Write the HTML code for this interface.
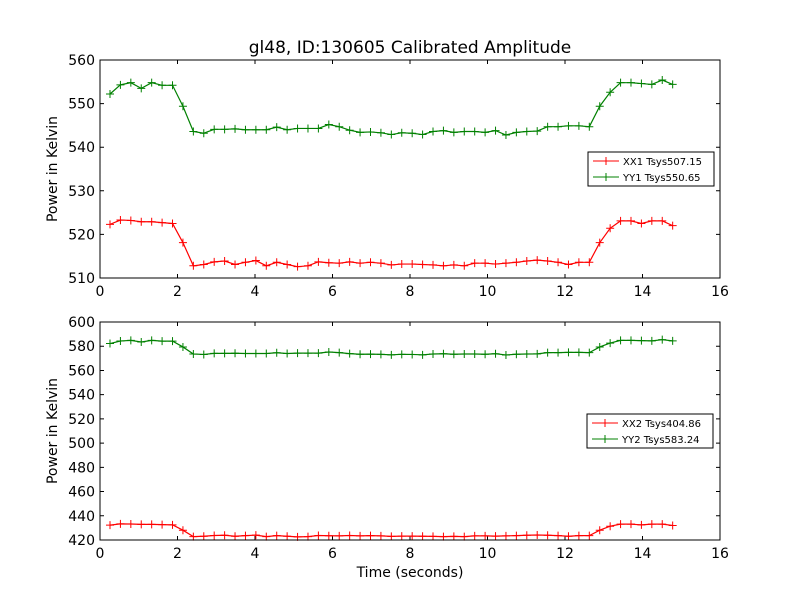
<!DOCTYPE html>
<html><head><meta charset="utf-8"><style>body{margin:0;background:#fff}svg{display:block;font-family:"DejaVu Sans","Liberation Sans",sans-serif}</style></head>
<body>
<svg id="chart" width="800" height="600" xmlns="http://www.w3.org/2000/svg">
<rect width="800" height="600" fill="#fff"/>
<text x="410" y="53" font-size="17" text-anchor="middle">gl48, ID:130605 Calibrated Amplitude</text>
<text x="410" y="577" font-size="14" text-anchor="middle">Time (seconds)</text>
<g id="plots"></g>
</svg>
<script>
const xTicks = [0,2,4,6,8,10,12,14,16];
const yTicksTop = [510,520,530,540,550,560];
const yTicksBot = [420,440,460,480,500,520,540,560,580,600];
const tStart = 0.258, tStep = 0.2689;
const xx1 = [522.3,523.3,523.2,522.9,522.9,522.7,522.5,518.1,512.8,513.1,513.7,513.9,513.1,513.6,514.0,512.8,513.6,513.1,512.6,512.8,513.7,513.5,513.4,513.7,513.4,513.6,513.4,513.0,513.2,513.2,513.1,513.0,512.8,513.0,512.8,513.4,513.4,513.2,513.4,513.6,513.9,514.1,513.9,513.6,513.1,513.6,513.6,518.1,521.4,523.1,523.1,522.5,523.1,523.1,522.0];
const yy1 = [552.2,554.3,554.8,553.5,554.8,554.2,554.2,549.4,543.6,543.2,544.1,544.1,544.2,544.0,544.0,544.0,544.6,544.0,544.3,544.3,544.3,545.2,544.7,543.9,543.4,543.5,543.3,542.9,543.3,543.2,542.9,543.6,543.8,543.4,543.6,543.6,543.4,543.8,542.8,543.4,543.6,543.7,544.7,544.7,544.9,544.9,544.7,549.4,552.6,554.8,554.8,554.6,554.4,555.4,554.4];
const xx2 = [432.3,433.3,433.2,432.9,432.9,432.7,432.5,428.1,422.8,423.1,423.7,423.9,423.1,423.6,424.0,422.8,423.6,423.1,422.6,422.8,423.7,423.5,423.4,423.7,423.4,423.6,423.4,423.0,423.2,423.2,423.1,423.0,422.8,423.0,422.8,423.4,423.4,423.2,423.4,423.6,423.9,424.1,423.9,423.6,423.1,423.6,423.6,428.1,431.4,433.1,433.1,432.5,433.1,433.1,432.0];
const yy2 = [582.2,584.3,584.8,583.5,584.8,584.2,584.2,579.4,573.6,573.2,574.1,574.1,574.2,574.0,574.0,574.0,574.6,574.0,574.3,574.3,574.3,575.2,574.7,573.9,573.4,573.5,573.3,572.9,573.3,573.2,572.9,573.6,573.8,573.4,573.6,573.6,573.4,573.8,572.8,573.4,573.6,573.7,574.7,574.7,574.9,574.9,574.7,579.4,582.6,584.8,584.8,584.6,584.4,585.4,584.4];
const legendTop = ["XX1 Tsys507.15","YY1 Tsys550.65"];
const legendBot = ["XX2 Tsys404.86","YY2 Tsys583.24"];

const NS="http://www.w3.org/2000/svg";
const root=document.getElementById('plots');
function mk(tag,attrs,parent){const e=document.createElementNS(NS,tag);for(const k in attrs)e.setAttribute(k,attrs[k]);(parent||root).appendChild(e);return e;}

function panel(name,top,bottom,yTicks,ymin,ymax,series,colors,labels,leg){
  const L=100,R=720;
  const g=mk('g',{});
  
  
  const X=v=>L+(v-0)/(16-0)*(R-L);
  const Y=v=>bottom-(v-ymin)/(ymax-ymin)*(bottom-top);
  xTicks.forEach(t=>{
    const x=X(t);
    const tk=mk('path',{d:`M${x},${bottom}v-4M${x},${top}v4`,stroke:'#000','stroke-width':1},g);
    
    
    const lb=mk('text',{x:x,y:bottom+18,'font-size':14,'text-anchor':'middle'},g);
    
    
    lb.textContent=t;
  });
  yTicks.forEach(t=>{
    const y=Y(t);
    const tk=mk('path',{d:`M${L},${y}h4M${R},${y}h-4`,stroke:'#000','stroke-width':1},g);
    
    
    const lb=mk('text',{x:L-5,y:y+5,'font-size':14,'text-anchor':'end'},g);
    
    
    lb.textContent=t;
  });
  const yt=mk('text',{x:0,y:0,'font-size':14,'text-anchor':'middle',transform:`translate(57,${(top+bottom)/2}) rotate(-90)`},g);
  
  
  yt.textContent='Power in Kelvin';
  series.forEach((vals,si)=>{
    const pts=vals.map((v,i)=>[X(tStart+i*tStep),Y(v)]);
    const ln=mk('polyline',{points:pts.map(p=>p.join(',')).join(' '),fill:'none',stroke:colors[si],'stroke-width':1.2},g);
    
    
    pts.forEach(p=>{
      const m=mk('path',{d:`M${p[0]-4},${p[1]}h8M${p[0]},${p[1]-4}v8`,stroke:colors[si],'stroke-width':1},g);
      
      
    });
  });
  const fr=mk('rect',{x:L,y:top,width:R-L,height:bottom-top,fill:'none',stroke:'#000','stroke-width':1},g);
  
  
  const lg=mk('g',{},g);
  
  
  mk('rect',{x:leg[0],y:leg[1],width:126,height:34,fill:'#fff',stroke:'#000','stroke-width':1},lg);
  labels.forEach((s,i)=>{
    const yy=leg[1]+9+i*16;
    mk('path',{d:`M${leg[0]+5},${yy}h26M${leg[0]+18},${yy-4}v8`,stroke:colors[i],'stroke-width':1},lg);
    const t=mk('text',{x:leg[0]+35,y:yy+4,'font-size':10},lg);
    
    
    t.textContent=s;
  });
}
panel('top-panel',60,278,yTicksTop,510,560,[xx1,yy1],['#ff0000','#008000'],legendTop,[588,152]);
panel('bottom-panel',322,540,yTicksBot,420,600,[xx2,yy2],['#ff0000','#008000'],legendBot,[587,414]);
</script>
</body></html>
